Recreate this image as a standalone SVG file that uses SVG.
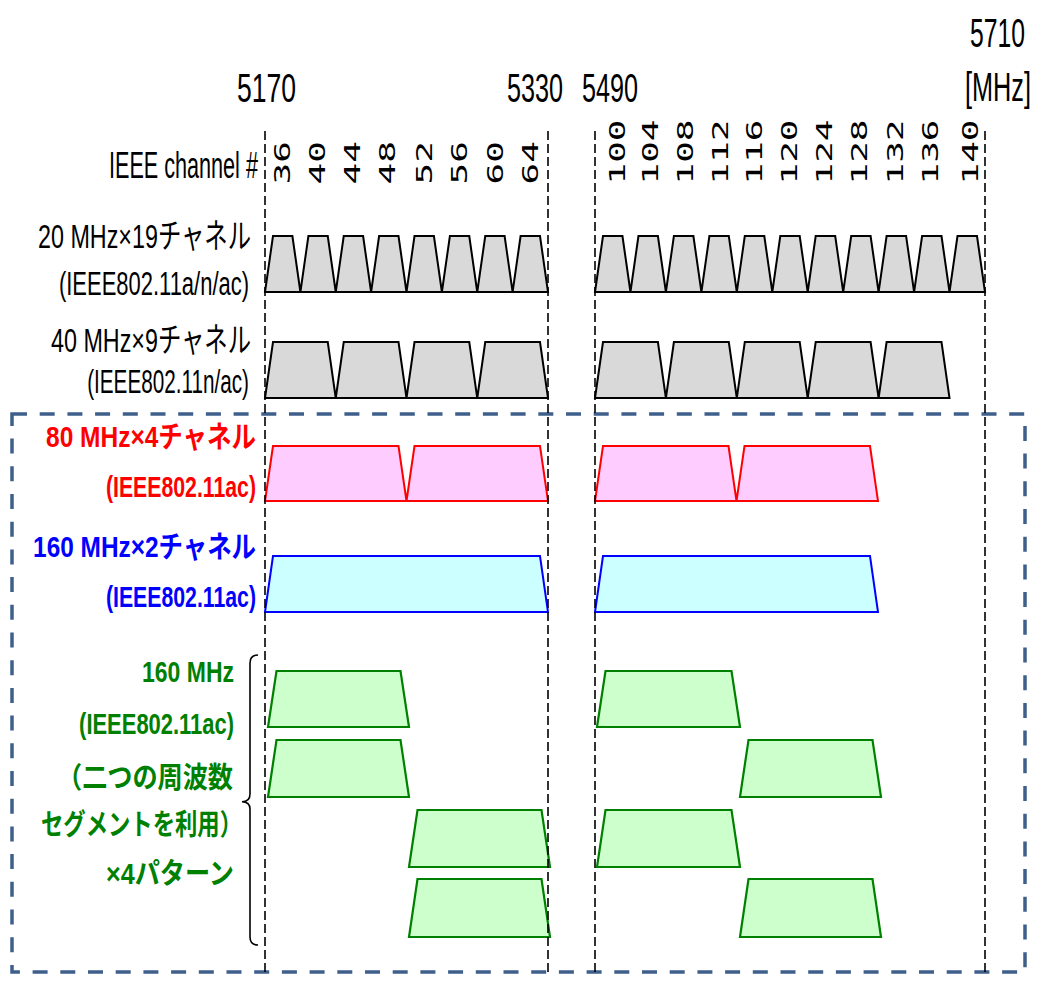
<svg xmlns="http://www.w3.org/2000/svg" width="1041" height="981" viewBox="0 0 1041 981">
<style>
.t{font-family:"Liberation Sans","Noto Sans CJK JP",sans-serif;}
.b{font-weight:bold;}
.ch{font-family:"DejaVu Sans Mono","Liberation Mono",monospace;font-size:36px;fill:#000;}
.gray{fill:#d9d9d9;stroke:#000;stroke-width:2;stroke-linejoin:miter;}
.red{fill:#ffccff;stroke:#ff0000;stroke-width:2;}
.blue{fill:#ccffff;stroke:#0000ff;stroke-width:2;}
.green{fill:#ccffcc;stroke:#008000;stroke-width:2.2;}
.guide{stroke:#000;stroke-width:1.6;stroke-dasharray:9 4;fill:none;}
</style>
<rect width="1041" height="981" fill="#fff"/>

<g id="axis-labels" class="t" font-size="40" fill="#000">
<text transform="translate(237,102) scale(0.663,1)" textLength="89" lengthAdjust="spacingAndGlyphs">5170</text>
<text transform="translate(507,102) scale(0.63,1)" textLength="89" lengthAdjust="spacingAndGlyphs">5330</text>
<text transform="translate(582,102) scale(0.63,1)" textLength="89" lengthAdjust="spacingAndGlyphs">5490</text>
<text transform="translate(970,47) scale(0.618,1)" textLength="89" lengthAdjust="spacingAndGlyphs">5710</text>
<text transform="translate(965,101) scale(0.632,1)" textLength="104.4" lengthAdjust="spacingAndGlyphs">[MHz]</text>
</g>

<g id="channel-label" class="t" font-size="37" fill="#000">
<text transform="translate(109,178) scale(0.584,1)" textLength="255" lengthAdjust="spacingAndGlyphs">IEEE channel #</text>
</g>

<g id="channel-numbers" class="ch">
<text transform="translate(290,184.5) rotate(-90) scale(1,0.57)">36</text>
<text transform="translate(325,184.5) rotate(-90) scale(1,0.57)">40</text>
<text transform="translate(360,184.5) rotate(-90) scale(1,0.57)">44</text>
<text transform="translate(395,184.5) rotate(-90) scale(1,0.57)">48</text>
<text transform="translate(431.5,184.5) rotate(-90) scale(1,0.57)">52</text>
<text transform="translate(466.5,184.5) rotate(-90) scale(1,0.57)">56</text>
<text transform="translate(503,184.5) rotate(-90) scale(1,0.57)">60</text>
<text transform="translate(538,184.5) rotate(-90) scale(1,0.57)">64</text>
<text transform="translate(625,184.5) rotate(-90) scale(1,0.57)">100</text>
<text transform="translate(658,184.5) rotate(-90) scale(1,0.57)">104</text>
<text transform="translate(693,184.5) rotate(-90) scale(1,0.57)">108</text>
<text transform="translate(728,184.5) rotate(-90) scale(1,0.57)">112</text>
<text transform="translate(761.5,184.5) rotate(-90) scale(1,0.57)">116</text>
<text transform="translate(796.5,184.5) rotate(-90) scale(1,0.57)">120</text>
<text transform="translate(831.5,184.5) rotate(-90) scale(1,0.57)">124</text>
<text transform="translate(866.5,184.5) rotate(-90) scale(1,0.57)">128</text>
<text transform="translate(902.5,184.5) rotate(-90) scale(1,0.57)">132</text>
<text transform="translate(938,184.5) rotate(-90) scale(1,0.57)">136</text>
<text transform="translate(977.5,184.5) rotate(-90) scale(1,0.57)">140</text>
</g>

<g id="row-20mhz">
<g class="t" font-size="34" fill="#000" text-anchor="end">
<text transform="translate(251,248) scale(0.685,1)" textLength="311" lengthAdjust="spacingAndGlyphs">20 MHz×19チャネル</text>
<text transform="translate(249,295) scale(0.64,1)" textLength="297" lengthAdjust="spacingAndGlyphs">(IEEE802.11a/n/ac)</text>
</g>
<polygon class="gray" points="265,292 273,236 292.4,236 300.4,292 308.4,236 327.75,236 335.75,292 343.75,236 363.1,236 371.1,292 379.1,236 398.5,236 406.5,292 414.5,236 433.9,236 441.9,292 449.9,236 469.25,236 477.25,292 485.25,236 504.6,236 512.6,292 520.6,236 540,236 548,292"/>
<polygon class="gray" points="595,292 603,236 622.45,236 630.45,292 638.45,236 657.9,236 665.9,292 673.9,236 693.4,236 701.4,292 709.4,236 728.8,236 736.8,292 744.8,236 764.3,236 772.3,292 780.3,236 799.7,236 807.7,292 815.7,236 835.2,236 843.2,292 851.2,236 870.6,236 878.6,292 886.6,236 906.1,236 914.1,292 922.1,236 941.5,236 949.5,292 957.5,236 977,236 985,292"/>
</g>

<g id="row-40mhz">
<g class="t" font-size="34" fill="#000" text-anchor="end">
<text transform="translate(251,352) scale(0.685,1)" textLength="292" lengthAdjust="spacingAndGlyphs">40 MHz×9チャネル</text>
<text transform="translate(249,393) scale(0.604,1)" textLength="268" lengthAdjust="spacingAndGlyphs">(IEEE802.11n/ac)</text>
</g>
<polygon class="gray" points="265,398 273,342 327.75,342 335.75,398 343.75,342 398.5,342 406.5,398 414.5,342 469.25,342 477.25,398 485.25,342 540,342 548,398"/>
<polygon class="gray" points="595,398 603,342 657.9,342 665.9,398 673.9,342 728.8,342 736.8,398 744.8,342 799.7,342 807.7,398 815.7,342 870.6,342 878.6,398 886.6,342 941.5,342 949.5,398"/>
</g>

<g id="ac-frame">
<rect x="12" y="414" width="1013" height="558" fill="none" stroke="#3f5f8b" stroke-width="3.5" stroke-dasharray="15 12.7"/>
</g>

<g id="row-80mhz">
<g class="t b" font-size="30" fill="#ff0000" text-anchor="end">
<text transform="translate(256,447) scale(0.815,1)" textLength="257.6" lengthAdjust="spacingAndGlyphs">80 MHz×4チャネル</text>
<text transform="translate(256,497) scale(0.703,1)" textLength="213.5" lengthAdjust="spacingAndGlyphs">(IEEE802.11ac)</text>
</g>
<polygon class="red" points="265,501 273,446 398.5,446 406.5,501 414.5,446 540,446 548,501"/>
<polygon class="red" points="595,501 603,446 728.5,446 736.5,501 744.5,446 870,446 878,501"/>
</g>

<g id="row-160mhz">
<g class="t b" font-size="30" fill="#0000ff" text-anchor="end">
<text transform="translate(256,557) scale(0.813,1)" textLength="274.2" lengthAdjust="spacingAndGlyphs">160 MHz×2チャネル</text>
<text transform="translate(256,607) scale(0.703,1)" textLength="213.5" lengthAdjust="spacingAndGlyphs">(IEEE802.11ac)</text>
</g>
<polygon class="blue" points="265,612 273,556 540,556 548,612"/>
<polygon class="blue" points="595,612 603,556 870,556 878,612"/>
</g>

<g id="row-80plus80">
<g class="t b" font-size="29" fill="#008000" text-anchor="end">
<text transform="translate(234,682) scale(0.793,1)" textLength="116" lengthAdjust="spacingAndGlyphs">160 MHz</text>
<text transform="translate(234,734) scale(0.751,1)" textLength="206.3" lengthAdjust="spacingAndGlyphs">(IEEE802.11ac)</text>
<text transform="translate(233,788) scale(0.867,1)" textLength="203" lengthAdjust="spacingAndGlyphs">（二つの周波数</text>
<text transform="translate(242,835) scale(0.77,1)" textLength="261" lengthAdjust="spacingAndGlyphs">セグメントを利用）</text>
<text transform="translate(234,884) scale(0.859,1)" textLength="149" lengthAdjust="spacingAndGlyphs">×4パターン</text>
</g>
<path d="M258,655 Q250,655 250,663 L250,794 Q250,801.7 242,801.7 Q250,801.7 250,809 L250,937 Q250,945 258,945" fill="none" stroke="#000" stroke-width="1.6"/>
<polygon class="green" points="268,727 276.5,671 400.5,671 409,727"/>
<polygon class="green" points="597,727 605.5,671 731.5,671 740,727"/>
<polygon class="green" points="268,797 276.5,740 400.5,740 409,797"/>
<polygon class="green" points="740,797 748.5,740 872.5,740 881,797"/>
<polygon class="green" points="409,867 417.5,810 541.5,810 550,867"/>
<polygon class="green" points="597,867 605.5,810 731.5,810 740,867"/>
<polygon class="green" points="409,937 417.5,879 541.5,879 550,937"/>
<polygon class="green" points="740,937 748.5,879 872.5,879 881,937"/>
</g>

<g id="connectors">
<line class="guide" x1="265" y1="131" x2="265" y2="974"/>
<line class="guide" x1="548" y1="131" x2="548" y2="974"/>
<line class="guide" x1="595" y1="131" x2="595" y2="974"/>
<line class="guide" x1="985" y1="131" x2="985" y2="974"/>
</g>
</svg>
